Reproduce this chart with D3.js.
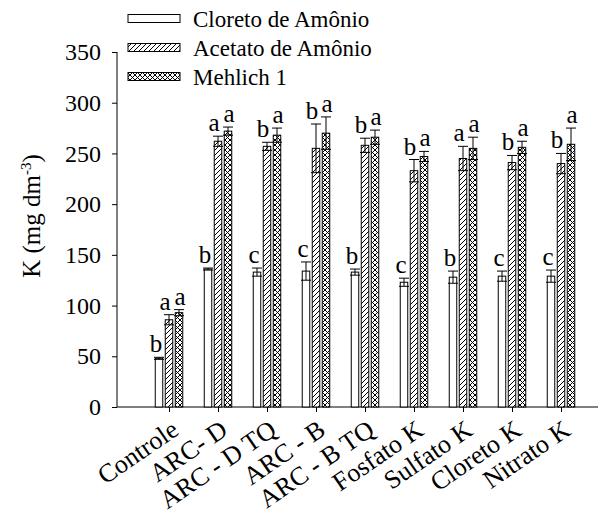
<!DOCTYPE html>
<html><head><meta charset="utf-8">
<script src="https://cdn.jsdelivr.net/npm/d3@7"></script>
<style>body{margin:0;background:#fff}svg text{font-family:"Liberation Serif","Times New Roman",serif !important;fill:#000}</style>
</head><body><svg id="c" width="600" height="520"></svg>
<script>
const categories = ["Controle","ARC- D","ARC - D TQ","ARC - B","ARC - B TQ","Fosfato K","Sulfato K","Cloreto K","Nitrato K"];
const seriesNames = ["Cloreto de Amônio","Acetato de Amônio","Mehlich 1"];
const cloreto = [48,136,133,134,133,123,128,129,129];
const cloretoErr = [1,1,4,9,3,4,6,5,6];
const cloretoLet = ["b","b","c","c","b","c","b","c","c"];
const acetato = [86,262,257,255,258,233,245,241,240];
const acetatoErr = [5,5,4,24,7,11,12,7,10];
const acetatoLet = ["a","a","b","b","b","b","a","b","b"];
const mehlich = [93,272,268,270,266,247,255,256,259];
const mehlichErr = [3,4,7,16,7,5,11,6,16];
const mehlichLet = ["a","a","a","a","a","a","a","a","a"];
const yTicks = [0,50,100,150,200,250,300,350];

const FONT = "Liberation Serif";
const svg = d3.select("#c");
const defs = svg.append("defs");
const p1 = defs.append("pattern").attr("id","hatch").attr("patternUnits","userSpaceOnUse").attr("width",5).attr("height",5);
p1.append("rect").attr("width",5).attr("height",5).attr("fill","#fff");
p1.append("path").attr("d","M-1,1 l2,-2 M0,5 l5,-5 M4,6 l2,-2").attr("stroke","#000").attr("stroke-width",1);
const p2 = defs.append("pattern").attr("id","cross").attr("patternUnits","userSpaceOnUse").attr("width",5).attr("height",5);
p2.append("rect").attr("width",5).attr("height",5).attr("fill","#fff");
p2.append("path").attr("d","M-1,1 l2,-2 M0,5 l5,-5 M4,6 l2,-2 M-1,4 l2,2 M0,0 l5,5 M4,-1 l2,2").attr("stroke","#000").attr("stroke-width",1);
const fills = ["#fff","url(#hatch)","url(#cross)"];

const y = d3.scaleLinear().domain([0,350]).range([407,52]);
const x = d3.scalePoint().domain(categories).range([169,561]);
const off = d3.scalePoint().domain([0,1,2]).range([-10,10]);
const letterShift = [-3,-4,1];
const bw = 7.5;

// y axis
const ya = svg.append("g").attr("transform","translate(117,0)")
  .call(d3.axisLeft(y).tickValues(yTicks).tickSize(5).tickPadding(11).tickSizeOuter(0));
ya.attr("font-family",FONT);
ya.select(".domain").attr("stroke","#000").attr("d","M0,52V407");
ya.selectAll("text").attr("font-size",24).attr("font-family",FONT);
// x axis
const xa = svg.append("g").attr("transform","translate(0,407)")
  .call(d3.axisBottom(x).tickSize(5).tickFormat(""));
xa.select(".domain").attr("d","M117,0H598").attr("stroke","#000");
svg.append("g").selectAll("text").data(categories).join("text")
  .attr("transform",d=>`translate(${x(d)+6},${426}) rotate(-34.5)`)
  .attr("text-anchor","end").attr("font-size",26).attr("font-family",FONT).attr("dy","0.35em").text(d=>d);

svg.append("text").attr("transform","translate(40,216) rotate(-90)").attr("text-anchor","middle")
  .attr("font-size",25).attr("font-family",FONT)
  .html('K (mg dm<tspan dy="-9" font-size="15">-3</tspan><tspan dy="9">)</tspan>');

const series = [[cloreto,cloretoErr,cloretoLet],[acetato,acetatoErr,acetatoLet],[mehlich,mehlichErr,mehlichLet]];
series.forEach(([vals,errs,lets],s)=>{
  const g = svg.append("g");
  const data = categories.map((c,i)=>({c,v:vals[i],e:errs[i],l:lets[i]}));
  g.selectAll("rect").data(data).join("rect")
    .attr("x",d=>x(d.c)+off(s)-bw/2).attr("width",bw)
    .attr("y",d=>y(d.v)).attr("height",d=>y(0)-y(d.v))
    .attr("fill",fills[s]).attr("stroke","#000").attr("stroke-width",1);
  const eb = g.selectAll("g.eb").data(data).join("g").attr("class","eb");
  eb.append("path").attr("stroke","#000").attr("fill","none").attr("stroke-width",1)
    .attr("d",d=>{const cx=x(d.c)+off(s), t=y(d.v+d.e), b=y(d.v-d.e);
      return `M${cx},${t}V${b}M${cx-5},${t}H${cx+5}M${cx-5},${b}H${cx+5}`;});
  g.selectAll("text").data(data).join("text")
    .attr("x",d=>x(d.c)+off(s)+letterShift[s]).attr("y",d=>y(d.v+d.e)-5)
    .attr("text-anchor","middle").attr("font-size",25).attr("font-family",FONT).text(d=>d.l);
});

// legend
const lg = svg.append("g");
seriesNames.forEach((n,i)=>{
  const cy = 18.5+29*i;
  lg.append("rect").attr("x",128).attr("y",cy-4).attr("width",52).attr("height",8)
    .attr("fill",fills[i]).attr("stroke","#000");
  lg.append("text").attr("x",193).attr("y",cy+8).attr("font-size",23).attr("font-family",FONT).text(n);
});
</script></body></html>
